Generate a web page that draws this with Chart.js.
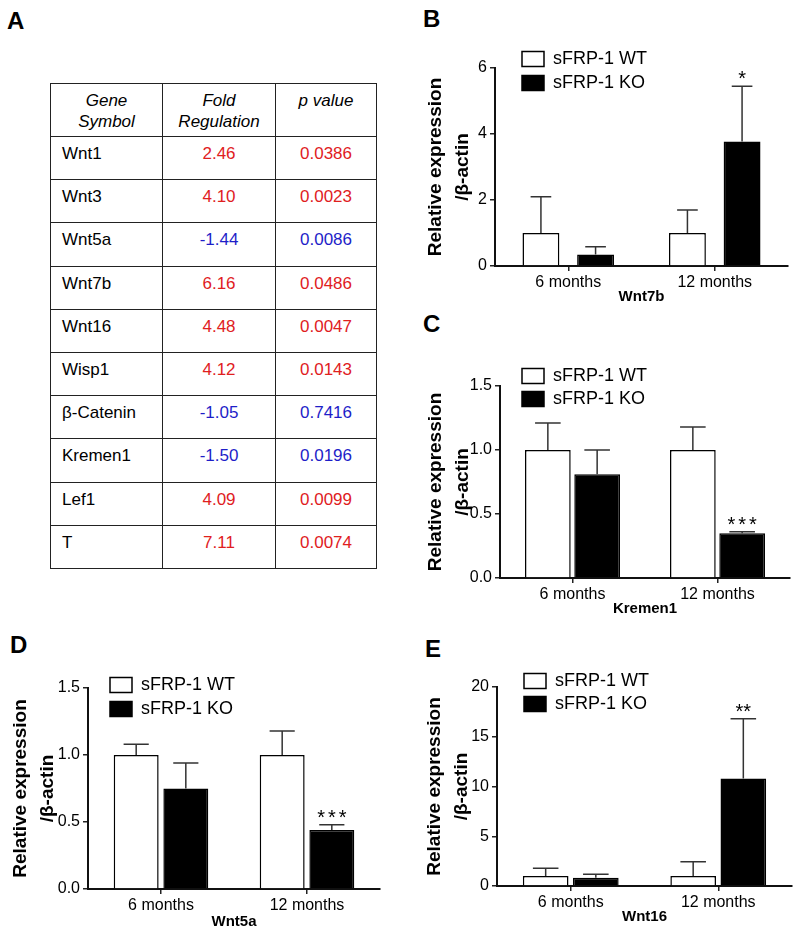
<!DOCTYPE html>
<html>
<head>
<meta charset="utf-8">
<script src="https://cdn.jsdelivr.net/npm/chart.js@4.4.1/dist/chart.umd.min.js"></script>
<style>
  html, body { margin: 0; padding: 0; background: #fff; }
  body { position: relative; width: 800px; height: 937px; overflow: hidden; font-family: "Liberation Sans", Arial, Helvetica, sans-serif; }
  .panel-letter { position: absolute; font-weight: bold; font-size: 24px; line-height: 24px; color: #000; }
  canvas { position: absolute; }
  #geneTable { position: absolute; left: 50px; top: 83px; width: 326px; border-collapse: collapse; table-layout: fixed; font-size: 17px; color: #000; }
  #geneTable th, #geneTable td { border: 1.5px solid #222; padding: 0; }
  #geneTable th { font-weight: normal; font-style: italic; vertical-align: top; padding-top: 6px; line-height: 21px; text-align: center; }
  #geneTable td { vertical-align: middle; padding-bottom: 8px; text-align: center; }
  #geneTable td.gene { text-align: left; padding-left: 11px; }
  .up { color: #e0201e; }
  .down { color: #1e1ec8; }
</style>
</head>
<body>
<div class="panel-letter" style="left:7px;top:9px;">A</div>
<div class="panel-letter" style="left:423px;top:7px;">B</div>
<div class="panel-letter" style="left:423px;top:312px;">C</div>
<div class="panel-letter" style="left:10px;top:633px;">D</div>
<div class="panel-letter" style="left:425px;top:637px;">E</div>

<table id="geneTable">
  <colgroup><col style="width:112px"><col style="width:113px"><col style="width:101px"></colgroup>
  <thead><tr style="height:53px"><th>Gene<br>Symbol</th><th>Fold<br>Regulation</th><th>p value</th></tr></thead>
  <tbody id="geneBody"></tbody>
</table>

<canvas id="chartB" width="393" height="268" style="left:400px;top:38px;"></canvas>
<canvas id="chartC" width="395" height="262" style="left:400px;top:356px;"></canvas>
<canvas id="chartD" width="385" height="273" style="left:0px;top:658px;"></canvas>
<canvas id="chartE" width="397" height="269" style="left:400px;top:657px;"></canvas>

<script>
// ---------- Data ----------
const categories = ['6 months', '12 months'];
const seriesNames = ['sFRP-1 WT', 'sFRP-1 KO'];
const yAxisTitle = ['Relative expression', '/β-actin'];

// Panel A: table
const geneSymbols = ['Wnt1', 'Wnt3', 'Wnt5a', 'Wnt7b', 'Wnt16', 'Wisp1', 'β-Catenin', 'Kremen1', 'Lef1', 'T'];
const foldRegulation = [2.46, 4.10, -1.44, 6.16, 4.48, 4.12, -1.05, -1.50, 4.09, 7.11];
const pValues = [0.0386, 0.0023, 0.0086, 0.0486, 0.0047, 0.0143, 0.7416, 0.0196, 0.0099, 0.0074];

// Panel B: Wnt7b
const wnt7bWT = [1.0, 1.0];
const wnt7bWTErr = [1.1, 0.7];
const wnt7bKO = [0.35, 3.77];
const wnt7bKOErr = [0.23, 1.68];
const wnt7bSig = ['', '*'];
const wnt7bTicks = [0, 2, 4, 6];

// Panel C: Kremen1
const kremen1WT = [1.0, 1.0];
const kremen1WTErr = [0.21, 0.18];
const kremen1KO = [0.81, 0.35];
const kremen1KOErr = [0.19, 0.012];
const kremen1Sig = ['', '***'];
const kremen1Ticks = [0, 0.5, 1.0, 1.5];

// Panel D: Wnt5a
const wnt5aWT = [1.0, 1.0];
const wnt5aWTErr = [0.08, 0.18];
const wnt5aKO = [0.75, 0.44];
const wnt5aKOErr = [0.19, 0.04];
const wnt5aSig = ['', '***'];
const wnt5aTicks = [0, 0.5, 1.0, 1.5];

// Panel E: Wnt16
const wnt16WT = [1.0, 1.0];
const wnt16WTErr = [0.78, 1.44];
const wnt16KO = [0.84, 10.8];
const wnt16KOErr = [0.33, 6.0];
const wnt16Sig = ['', '**'];
const wnt16Ticks = [0, 5, 10, 15, 20];

// ---------- Table ----------
const tbody = document.getElementById('geneBody');
geneSymbols.forEach((g, i) => {
  const tr = document.createElement('tr');
  tr.style.height = '43.2px';
  const cls = foldRegulation[i] < 0 ? 'down' : 'up';
  tr.innerHTML = '<td class="gene">' + g + '</td>' +
    '<td class="' + cls + '">' + foldRegulation[i].toFixed(2) + '</td>' +
    '<td class="' + cls + '">' + pValues[i].toFixed(4) + '</td>';
  tbody.appendChild(tr);
});

// ---------- Charts ----------
const FONT = '"Liberation Sans", Arial, Helvetica, sans-serif';
Chart.defaults.font.family = FONT;
Chart.defaults.color = '#000';

const errorBarPlugin = {
  id: 'errorBars',
  afterDatasetsDraw(chart) {
    const ctx = chart.ctx;
    const yScale = chart.scales.y;
    chart.data.datasets.forEach((ds, i) => {
      const meta = chart.getDatasetMeta(i);
      meta.data.forEach((bar, j) => {
        const topPx = yScale.getPixelForValue(ds.data[j] + ds.errorBars[j]);
        const half = bar.width * 0.28;
        ctx.save();
        ctx.strokeStyle = '#333';
        ctx.lineWidth = 1.5;
        ctx.beginPath();
        ctx.moveTo(bar.x, bar.y);
        ctx.lineTo(bar.x, topPx);
        ctx.moveTo(bar.x - half, topPx);
        ctx.lineTo(bar.x + half, topPx);
        ctx.stroke();
        const s = ds.significance ? ds.significance[j] : '';
        if (s) {
          ctx.fillStyle = '#000';
          ctx.font = '20px ' + FONT;
          ctx.textAlign = 'center';
          ctx.textBaseline = 'alphabetic';
          const spaced = s.length >= 3;
          if ('letterSpacing' in ctx) ctx.letterSpacing = spaced ? '3px' : '0px';
          ctx.fillText(s, bar.x + (spaced ? 1.5 : 0), topPx - 1);
        }
        ctx.restore();
      });
    });
  }
};

// Place the legend box relative to the chart area (it overlaps the top of the plot, as in the figure)
const legendShiftPlugin = {
  id: 'legendShift',
  afterLayout(chart, args, opts) {
    const lg = chart.legend;
    if (!lg) return;
    const ca = chart.chartArea;
    lg.left = ca.left + opts.dx;
    lg.top = ca.top + opts.dy;
    lg.right = lg.left + lg.width;
    lg.bottom = lg.top + lg.height;
  }
};

function buildChart(id, spec) {
  return new Chart(document.getElementById(id), {
    type: 'bar',
    data: {
      labels: categories,
      datasets: [
        { label: seriesNames[0], data: spec.wt, errorBars: spec.wtErr, significance: ['', ''],
          backgroundColor: '#ffffff', borderColor: '#000', borderWidth: 1.5,
          categoryPercentage: spec.catPct, barPercentage: spec.barPct },
        { label: seriesNames[1], data: spec.ko, errorBars: spec.koErr, significance: spec.sig,
          backgroundColor: '#000000', borderColor: '#000', borderWidth: 1.5,
          categoryPercentage: spec.catPct, barPercentage: spec.barPct }
      ]
    },
    options: {
      responsive: false,
      animation: false,
      devicePixelRatio: 1,
      events: [],
      layout: { padding: { top: 30, right: 5, left: 0, bottom: 0 } },
      plugins: {
        tooltip: { enabled: false },
        legend: {
          position: 'chartArea',
          align: 'start',
          labels: { boxWidth: 22, boxHeight: 15, padding: spec.legendPad, color: '#000', font: { size: 18 } }
        },
        legendShift: { dx: spec.legendDx, dy: spec.legendDy }
      },
      scales: {
        x: {
          type: 'category',
          offset: true,
          grid: { offset: false, drawOnChartArea: false, drawTicks: true, tickLength: 5, color: '#222', lineWidth: 1.5 },
          border: { display: true, color: '#111', width: 2 },
          ticks: { font: { size: 16 }, color: '#000', padding: 2, maxRotation: 0, autoSkip: false },
          title: { display: true, text: spec.title, font: { size: 15, weight: 'bold' }, color: '#000', padding: { top: 0, bottom: 0 } },
          afterFit: (s) => { s.height = spec.xAxisH; }
        },
        y: {
          min: spec.ticks[0],
          max: spec.ticks[spec.ticks.length - 1],
          grid: { drawOnChartArea: false, drawTicks: true, tickLength: 5, color: '#222', lineWidth: 1.5 },
          border: { display: true, color: '#111', width: 2 },
          afterBuildTicks: (s) => { s.ticks = spec.ticks.map(v => ({ value: v })); },
          ticks: { font: { size: 16 }, color: '#000', padding: 3, callback: (v) => Number(v).toFixed(spec.decimals) },
          title: { display: true, text: yAxisTitle, font: { size: 19, weight: 'bold', lineHeight: 1.42 }, color: '#000', padding: { top: spec.titlePad, bottom: 0 } },
          afterFit: (s) => { s.width = spec.yAxisW; }
        }
      }
    },
    plugins: [errorBarPlugin, legendShiftPlugin]
  });
}

buildChart('chartB', {
  wt: wnt7bWT, wtErr: wnt7bWTErr, ko: wnt7bKO, koErr: wnt7bKOErr, sig: wnt7bSig, ticks: wnt7bTicks,
  decimals: 0, title: 'Wnt7b', catPct: 0.746, barPct: 0.675,
  yAxisW: 95, xAxisH: 40, titlePad: 22.5, legendPad: 6, legendDx: 21, legendDy: -24
});
buildChart('chartC', {
  wt: kremen1WT, wtErr: kremen1WTErr, ko: kremen1KO, koErr: kremen1KOErr, sig: kremen1Sig, ticks: kremen1Ticks,
  decimals: 1, title: 'Kremen1', catPct: 0.68, barPct: 0.927,
  yAxisW: 100, xAxisH: 40, titlePad: 22.5, legendPad: 5, legendDx: 17, legendDy: -24
});
buildChart('chartD', {
  wt: wnt5aWT, wtErr: wnt5aWTErr, ko: wnt5aKO, koErr: wnt5aKOErr, sig: wnt5aSig, ticks: wnt5aTicks,
  decimals: 1, title: 'Wnt5a', catPct: 0.68, barPct: 0.905,
  yAxisW: 88, xAxisH: 42, titlePad: 7, legendPad: 6, legendDx: 16, legendDy: -18
});
buildChart('chartE', {
  wt: wnt16WT, wtErr: wnt16WTErr, ko: wnt16KO, koErr: wnt16KOErr, sig: wnt16Sig, ticks: wnt16Ticks,
  decimals: 0, title: 'Wnt16', catPct: 0.68, barPct: 0.91,
  yAxisW: 97, xAxisH: 40, titlePad: 21.5, legendPad: 5, legendDx: 22, legendDy: -20
});
</script>
</body>
</html>
